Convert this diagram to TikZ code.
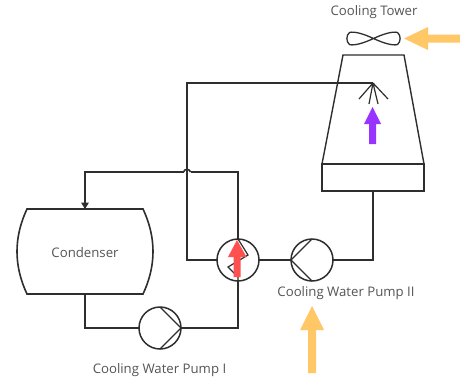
\documentclass[tikz,border=0pt]{standalone}
\usepackage{fontspec}
\setmainfont{Open Sans}
\usetikzlibrary{arrows.meta}
\definecolor{pipe}{HTML}{2E2E2E}
\definecolor{lab}{HTML}{555555}
\definecolor{warm}{HTML}{FFC766}
\definecolor{vio}{HTML}{9933FF}
\definecolor{hot}{HTML}{FF5050}
\tikzset{
  pipeline/.style={draw=pipe,line width=1.4pt,line join=miter},
  roundunit/.style={circle,draw=pipe,line width=1.5pt,minimum size=42pt,inner sep=0pt,outer sep=0pt,fill=white},
  lbl/.style={text=lab,font=\fontsize{13.2}{15}\selectfont,inner sep=0pt},
  flow/.style={fill=#1,draw=none}
}
\begin{document}
\begin{tikzpicture}[x=1pt,y=-1pt]
\clip (0,0) rectangle (460,376);
\fill[white] (0,0) rectangle (460,376);
% coordinates
\coordinate (spray) at (373,83);
\coordinate (towerbase) at (373,191);
\coordinate (condtop) at (85,209);
\coordinate (condbot) at (85,294);
\coordinate (hopl) at (190.5,172);
\coordinate (hopr) at (183.5,172);
% units
\node[roundunit] (hx) at (238,260) {};
\node[roundunit] (p2) at (312,260) {};
\node[roundunit] (p1) at (160,328) {};
% tower
\draw[pipeline] (343,55) -- (404,55) -- (424,164) -- (322,164) -- cycle;
\draw[pipeline] (322,164) rectangle (424,191);
% fan
\draw[pipeline,line width=1.3pt] (373.5,38.5) .. controls (364,34) and (354,31) .. (349.5,32.5) .. controls (346,35) and (346,42) .. (349.5,44.5) .. controls (354,46) and (364,43) .. (373.5,38.5) .. controls (383,34) and (393,31) .. (397.5,32.5) .. controls (401,35) and (401,42) .. (397.5,44.5) .. controls (393,46) and (383,43) .. (373.5,38.5) -- cycle;
% sprayer
\draw[pipeline,line width=1.2pt] (spray) -- (359,99) (spray) -- (369,104) (spray) -- (378,104) (spray) -- (388,99);
% condenser
\draw[pipeline,line width=1.6pt] (27,209) -- (143,209) .. controls (150,224) and (153,238) .. (153,251.5) .. controls (153,265) and (150,279) .. (143,294) -- (27,294) .. controls (20,279) and (17,265) .. (17,251.5) .. controls (17,238) and (20,224) .. (27,209) -- cycle;
% pipes
\draw[pipeline] (spray) -| (187,172) -- (187,260) -- (hx.west);
\draw[pipeline] (hx.north) |- (hopl);
\draw[pipeline,line width=1.6pt] (hopl) .. controls (189.5,168.5) and (184.5,168.5) .. (hopr);
\draw[pipeline] (hopr) -- (85,172) -- (condtop);
\fill[pipe] (85,209) -- (81,202.5) -- (89,202.5) -- cycle;
\draw[pipeline] (condbot) |- (p1.west);
\draw[pipeline] (p1.east) -| (hx.south);
\draw[pipeline] (hx.east) -- (p2.west);
\draw[pipeline] (p2.east) -| (towerbase);
% pump chords
\draw[pipeline,line width=1.2pt] (p2.north) -- (p2.west) -- (p2.south);
\draw[pipeline,line width=1.2pt] (p1.north) -- (p1.east) -- (p1.south);
% exchanger zigzag
\draw[pipeline,line width=1.2pt] (hx.north) -- (248,255) -- (228,267) -- (238,277) -- (hx.south);
% arrows
\fill[flow=warm] (404,38.5) -- (428,27) -- (428,34.5) -- (460,34.5) -- (460,42.5) -- (428,42.5) -- (428,50) -- cycle;
\fill[flow=warm] (312,306) -- (324,330) -- (316,330) -- (316,373) -- (308,373) -- (308,330) -- (300,330) -- cycle;
\fill[flow=vio] (372.5,107) -- (381,124) -- (376,124) -- (376,144) -- (369,144) -- (369,124) -- (364,124) -- cycle;
\fill[flow=hot] (237,240) -- (246.5,257) -- (240.5,257) -- (240.5,277) -- (233.5,277) -- (233.5,257) -- (228,257) -- cycle;
% labels
\node[lbl] (t1) at (374,12) {Cooling Tower};
\node[lbl] (t2) at (85,253) {Condenser};
\node[lbl] (t3) at (346,293.5) {Cooling Water Pump II};
\node[lbl] (t4) at (159.5,370) {Cooling Water Pump I};
\end{tikzpicture}
\end{document}
